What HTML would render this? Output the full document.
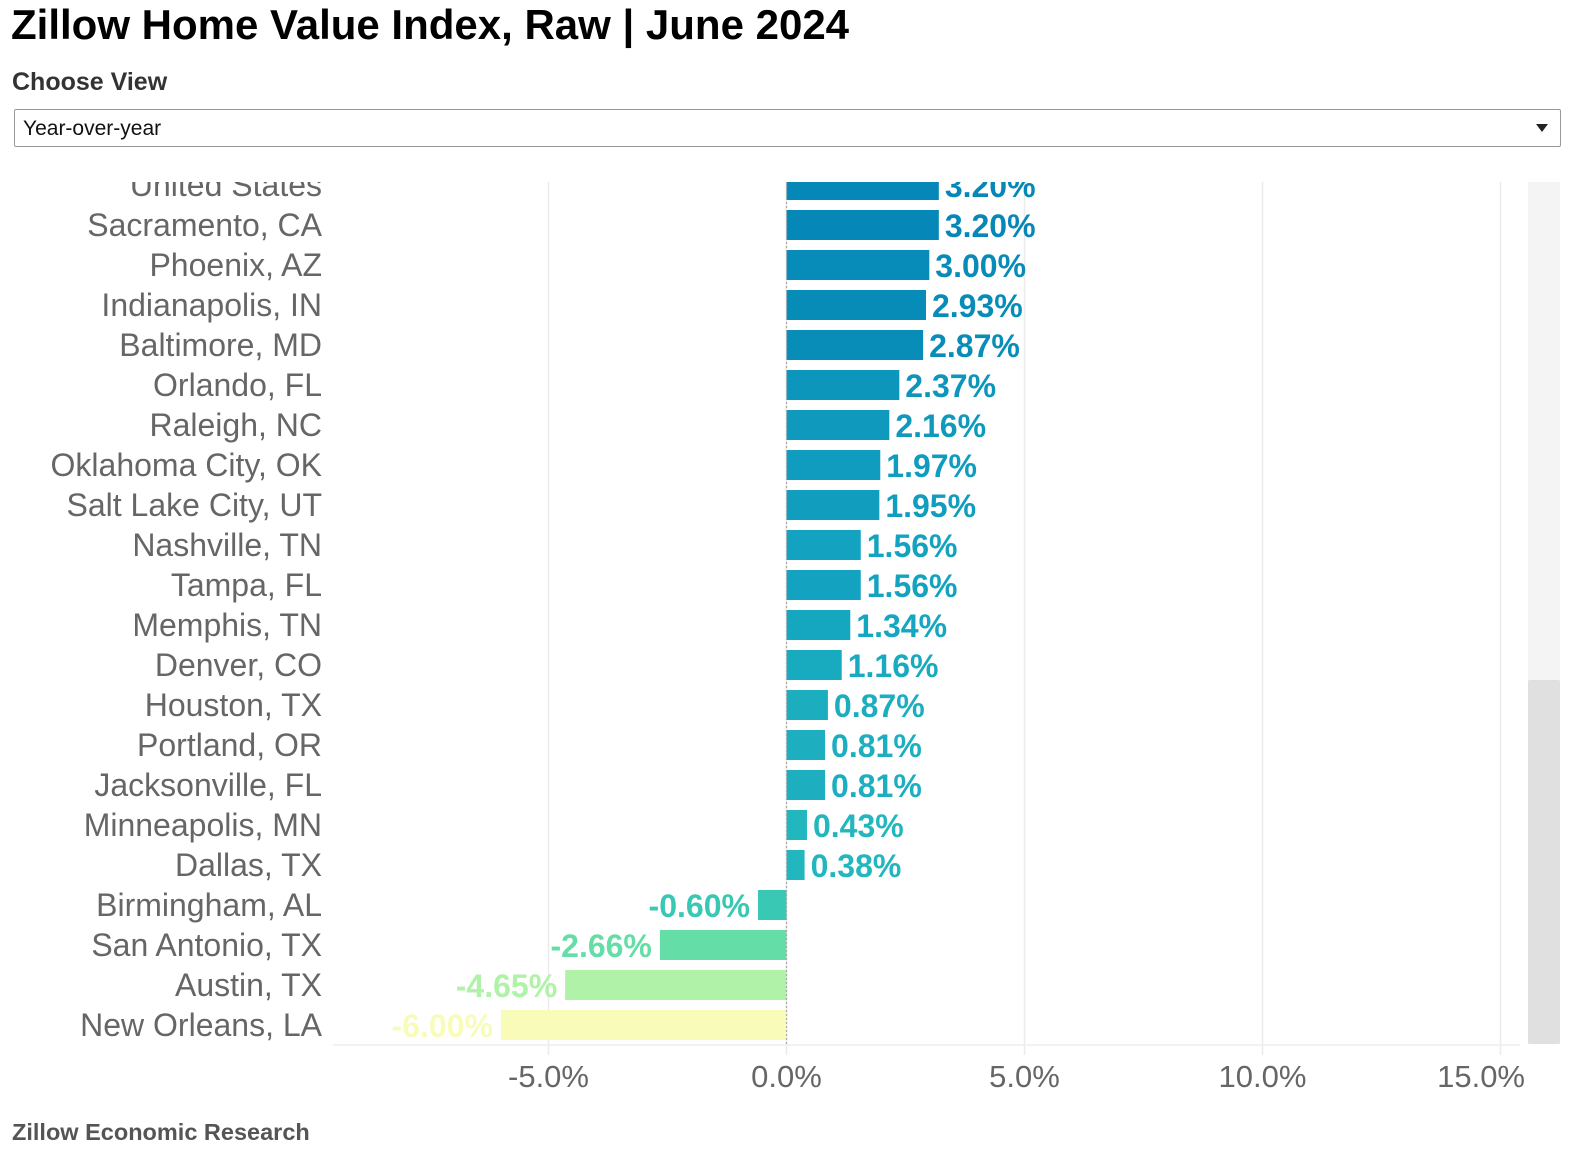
<!DOCTYPE html>
<html><head><meta charset="utf-8">
<style>
body{margin:0;width:1594px;height:1168px;background:#fff;font-family:"Liberation Sans",Arial,sans-serif;overflow:hidden;position:relative}
#title{position:absolute;left:11px;top:1px;font-size:42px;font-weight:bold;color:#000;margin:0}
#cv{position:absolute;left:12px;top:68px;font-size:25px;font-weight:bold;color:#333}
#sel{position:absolute;left:14px;top:109px;width:1547px;height:38px;border:1.5px solid #999;border-radius:2px;box-sizing:border-box}
#sel span{position:absolute;left:8px;top:7px;font-size:21px;color:#111}
#sel i{position:absolute;right:12px;top:14px;width:0;height:0;border-left:6px solid transparent;border-right:6px solid transparent;border-top:8px solid #222}
#foot{position:absolute;left:12px;top:1119px;font-size:23.5px;font-weight:bold;color:#555}
svg{position:absolute;left:0;top:0}
</style></head><body>
<h1 id="title">Zillow Home Value Index, Raw | June 2024</h1>
<div id="cv">Choose View</div>
<div id="sel"><span>Year-over-year</span><i></i></div>
<div id="foot">Zillow Economic Research</div>
<svg id="chart" width="1594" height="1168"></svg>
<script>
const categories=["United States","Sacramento, CA","Phoenix, AZ","Indianapolis, IN","Baltimore, MD","Orlando, FL","Raleigh, NC","Oklahoma City, OK","Salt Lake City, UT","Nashville, TN","Tampa, FL","Memphis, TN","Denver, CO","Houston, TX","Portland, OR","Jacksonville, FL","Minneapolis, MN","Dallas, TX","Birmingham, AL","San Antonio, TX","Austin, TX","New Orleans, LA"];
const values=[3.20,3.20,3.00,2.93,2.87,2.37,2.16,1.97,1.95,1.56,1.56,1.34,1.16,0.87,0.81,0.81,0.43,0.38,-0.60,-2.66,-4.65,-6.00];
const tickValues=[-5,0,5,10,15];
const tickLabels=["-5.0%","0.0%","5.0%","10.0%","15.0%"];

const NS="http://www.w3.org/2000/svg";
const svg=document.getElementById('chart');
const plotL=333,plotR=1520,plotT=182,plotB=1045,zeroX=786.5,perUnit=47.6;
const x=v=>zeroX+v*perUnit;
const y0=1010;
const step=40;
const rowTop=i=>y0-(categories.length-1-i)*step;
const stops=[[-6,[248,252,184]],[-4.65,[176,242,168]],[-2.66,[100,222,166]],[-0.6,[56,200,180]],[0.4,[34,182,190]],[1.5,[20,164,192]],[3.2,[5,136,183]]];
function color(v){
  if(v<=stops[0][0])return `rgb(${stops[0][1]})`;
  for(let k=1;k<stops.length;k++){
    if(v<=stops[k][0]){const a=stops[k-1],b=stops[k];const t=(v-a[0])/(b[0]-a[0]);
      return 'rgb('+a[1].map((c,j)=>Math.round(c+(b[1][j]-c)*t)).join(',')+')';}
  }
  return `rgb(${stops[stops.length-1][1]})`;
}
function mk(tag,attrs,parent){const e=document.createElementNS(NS,tag);for(const k in attrs)e.setAttribute(k,attrs[k]);(parent||svg).appendChild(e);return e;}
const defs=mk('defs',{});
const cp=mk('clipPath',{id:'clip'},defs);
mk('rect',{x:0,y:plotT,width:1594,height:plotB-plotT},cp);
tickValues.forEach((t,i)=>{
  const gl=mk('line',{x1:x(t),x2:x(t),y1:plotT,y2:plotB+10,stroke:'#ebebeb','stroke-width':1.5});
  
  
  const last=i===tickValues.length-1;
  const tl=mk('text',{x:last?1525:x(t),y:1087,'text-anchor':last?'end':'middle','font-size':31,fill:'#666'});
  tl.textContent=tickLabels[i];
  
  
});
mk('line',{x1:plotL,x2:plotR,y1:plotB,y2:plotB,stroke:'#eee','stroke-width':1.5});
const tr=mk('rect',{x:1528,y:plotT,width:32,height:plotB-plotT-1,fill:'#f4f4f4'});


const th=mk('rect',{x:1528,y:680,width:32,height:plotB-680-1,fill:'#e0e0e0',rx:2});


const g=mk('g',{'clip-path':'url(#clip)'});
categories.forEach((c,i)=>{
  const v=values[i],top=rowTop(i),cy=top+15,col=color(v);
  const bx=Math.min(x(0),x(v)),bw=Math.abs(x(v)-x(0));
  const b=mk('rect',{x:bx,y:top,width:bw,height:30,fill:col},g);
  
  
  const lab=mk('text',{x:322,y:cy+11,'text-anchor':'end','font-size':32,fill:'#666'},g);
  lab.textContent=c;
  
  
  const vl=mk('text',{x:v>=0?x(v)+6:x(v)-8,y:cy+12,'text-anchor':v>=0?'start':'end','font-size':32,'font-weight':'bold',fill:col},g);
  vl.textContent=v.toFixed(2)+'%';
  
  
});
mk('line',{x1:zeroX,x2:zeroX,y1:plotT,y2:plotB,stroke:'#aaa','stroke-width':1.2,'stroke-dasharray':'2,2'});
</script>
</body></html>
